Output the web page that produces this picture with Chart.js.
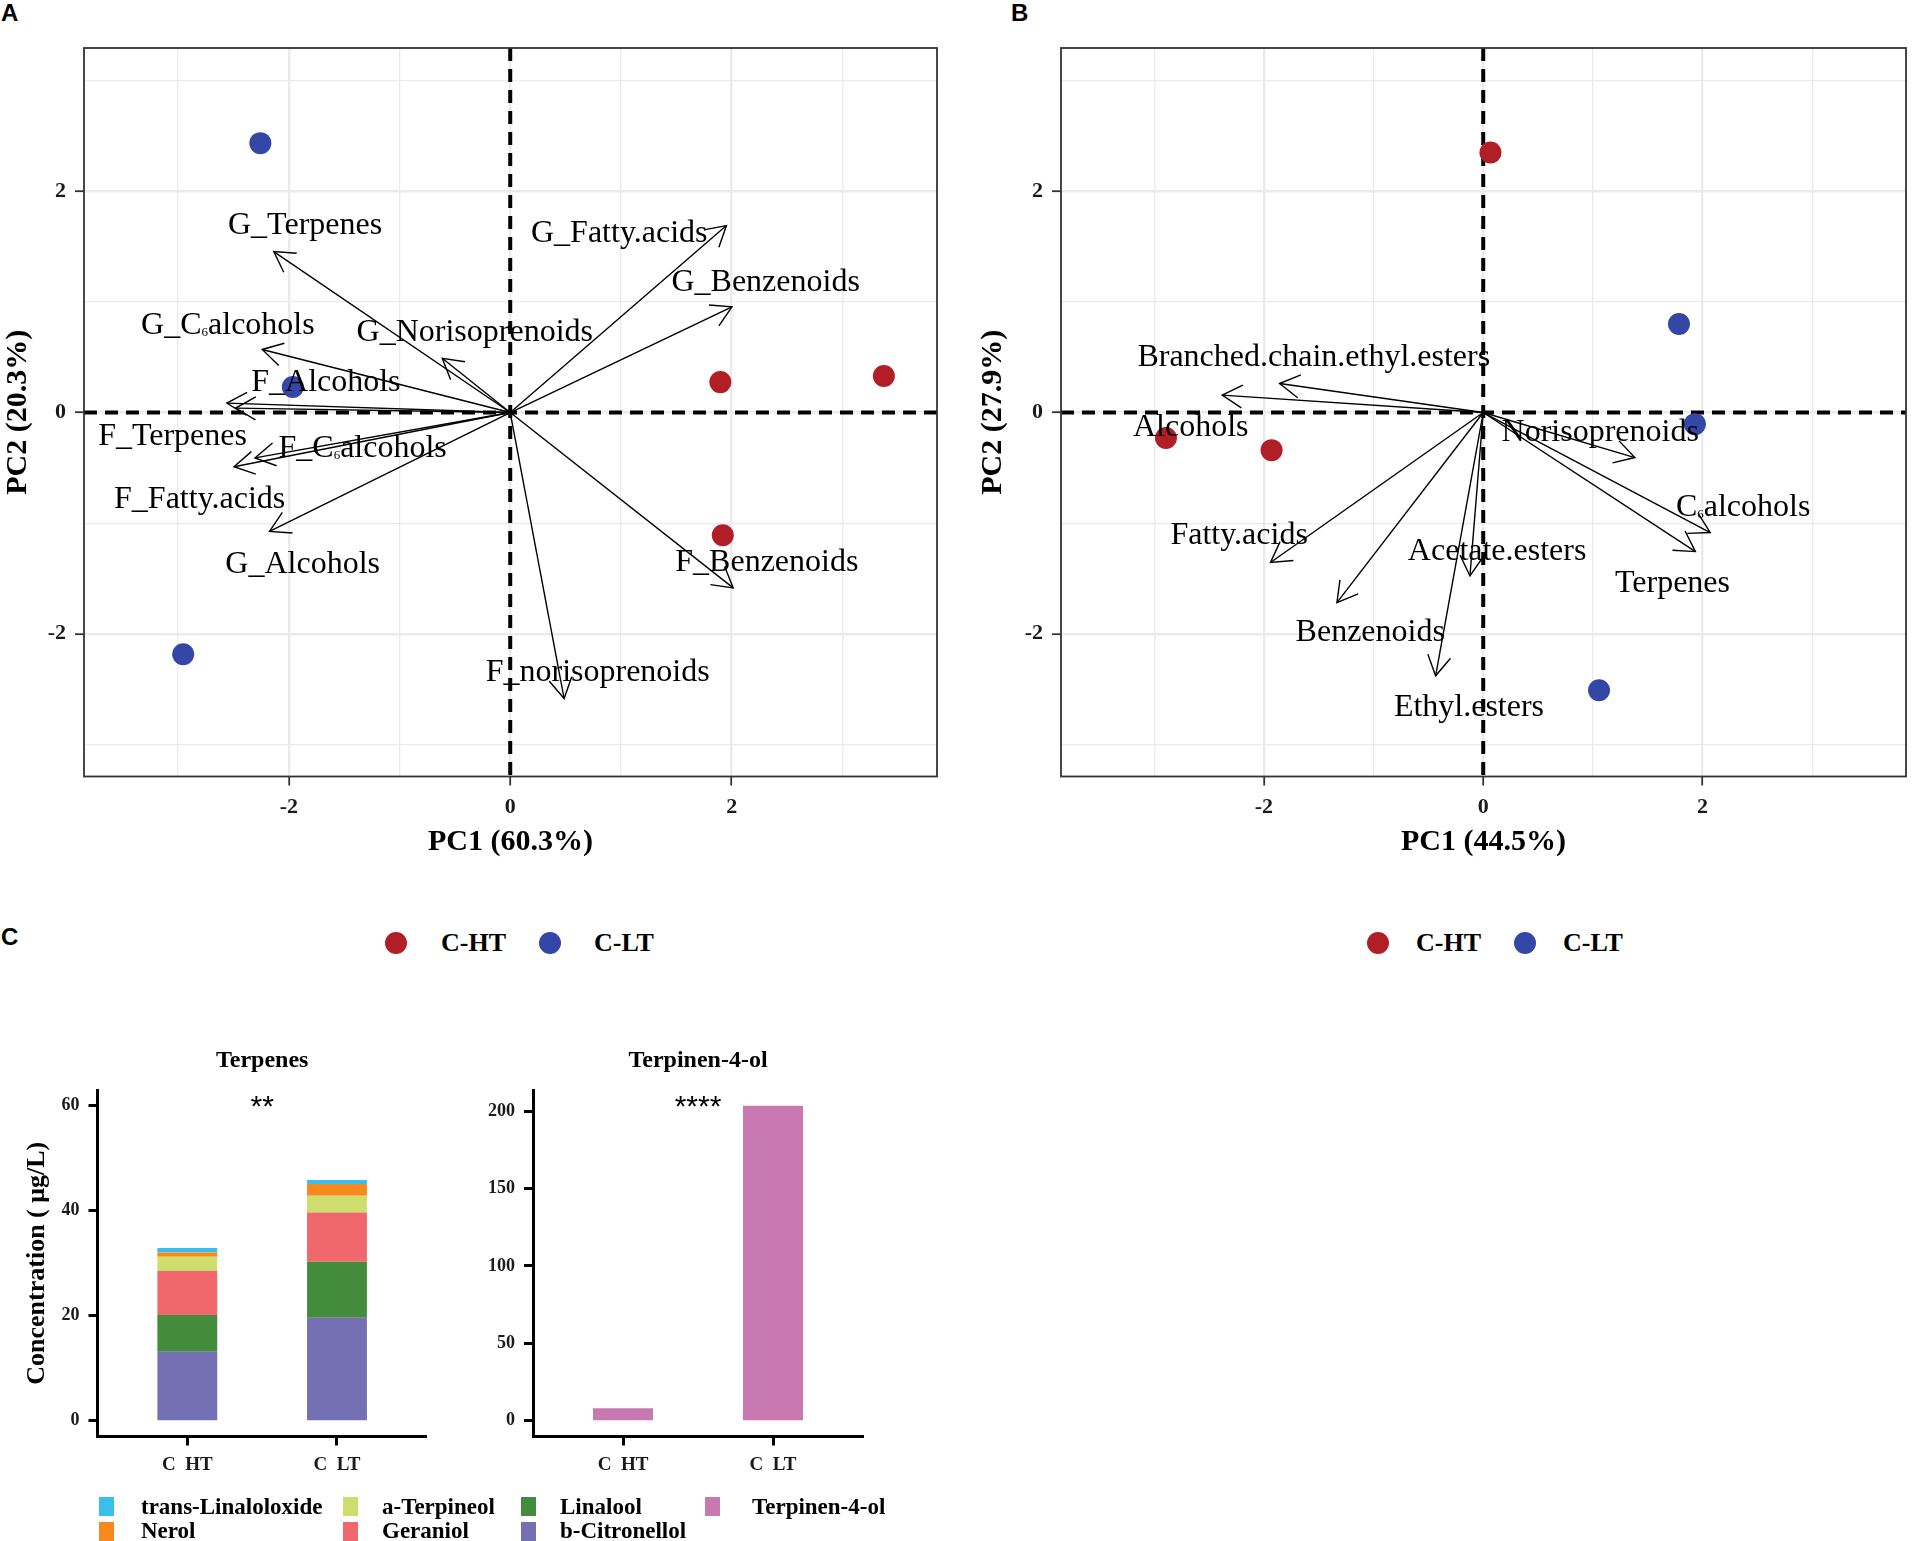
<!DOCTYPE html>
<html>
<head>
<meta charset="utf-8">
<script src="https://cdn.jsdelivr.net/npm/chart.js@4.4.1/dist/chart.umd.min.js"></script>
<style>
  html,body{margin:0;padding:0;background:#fff;}
  #wrap{position:relative;width:1917px;height:1541px;background:#fff;overflow:hidden;font-family:"Liberation Serif","Times New Roman",serif;}
  canvas{position:absolute;}
  .tag{position:absolute;font:bold 24px/24px "Liberation Sans",Arial,sans-serif;color:#000;}
  .dot{position:absolute;width:22px;height:22px;border-radius:50%;}
  .lgt{position:absolute;font:bold 26px/26px "Liberation Serif",serif;color:#000;white-space:nowrap;}
  .sq{position:absolute;width:15px;height:19px;}
  .bl{position:absolute;font:bold 23px/23px "Liberation Serif",serif;color:#000;white-space:nowrap;}
</style>
</head>
<body>
<div id="wrap">
  <div class="tag" style="left:1px;top:1px;">A</div>
  <div class="tag" style="left:1011px;top:1px;">B</div>
  <div class="tag" style="left:1px;top:925px;">C</div>

  <canvas id="pcaA" width="960" height="870" style="left:0;top:0;"></canvas>
  <canvas id="pcaB" width="957" height="870" style="left:960px;top:0;"></canvas>
  <canvas id="barT" width="450" height="480" style="left:0;top:1030px;"></canvas>
  <canvas id="barT4" width="440" height="480" style="left:440px;top:1030px;"></canvas>

  <div id="legA"></div>
  <div id="legB"></div>
  <div id="legC"></div>
</div>
<script>
// ---------------- DATA ----------------
const groups = ['C-HT', 'C-LT'];

// Panel A (individuals)
const aHT_x = [1.898, 3.375, 1.920];
const aHT_y = [0.275, 0.330, -1.110];
const aLT_x = [-2.257, -1.964, -2.954];
const aLT_y = [2.435, 0.230, -2.185];
// Panel A (variables)
const aVarNames = ['G_Terpenes','G_Fatty.acids','G_Benzenoids','G_Norisoprenoids','G_C\u2086alcohols','F_Alcohols','F_Terpenes','F_C\u2086alcohols','F_Fatty.acids','G_Alcohols','F_Benzenoids','F_norisoprenoids'];
const aVarX = [-2.136, 1.953, 2.003, -0.614, -2.240, -2.560, -2.480, -2.306, -2.495, -2.174, 2.014, 0.487];
const aVarY = [1.455, 1.690, 0.955, 0.490, 0.570, 0.085, 0.040, -0.410, -0.490, -1.075, -1.585, -2.585];
const aLabX = [-1.853, 0.985, 2.307, -0.320, -2.550, -1.665, -3.050, -1.333, -2.805, -1.875, 2.318, 0.790];
const aLabY = [1.710, 1.640, 1.190, 0.745, 0.805, 0.285, -0.200, -0.310, -0.765, -1.355, -1.335, -2.335];

// Panel B (individuals)
const bHT_x = [0.066, -2.893, -1.930];
const bHT_y = [2.350, -0.230, -0.340];
const bLT_x = [1.785, 1.930, 1.056];
const bLT_y = [0.800, -0.105, -2.510];
// Panel B (variables)
const bVarNames = ['Branched.chain.ethyl.esters','Alcohols','Norisoprenoids','C\u2086alcohols','Terpenes','Acetate.esters','Ethyl.esters','Benzenoids','Fatty.acids'];
const bVarX = [-1.857, -2.380, 1.383, 2.070, 1.935, -0.121, -0.434, -1.334, -1.940];
const bVarY = [0.262, 0.157, -0.407, -1.085, -1.257, -1.477, -2.380, -1.718, -1.356];
const bLabX = [-1.545, -2.667, 1.067, 2.370, 1.726, 0.127, -0.130, -1.030, -2.226];
const bLabY = [0.515, -0.115, -0.164, -0.840, -1.528, -1.235, -2.650, -1.973, -1.095];

const pcaTicks = [-3, -2, -1, 0, 1, 2, 3];

// Panel C
const barCats = ['C  HT', 'C  LT'];
const barPos = [1, 2];
const bCitronellol = [13.14, 19.62];
const linalool = [6.99, 10.67];
const geraniol = [8.44, 9.39];
const aTerpineol = [2.67, 3.18];
const nerol = [0.82, 2.22];
const transLinaloloxide = [0.83, 0.76];
const terpinen4ol = [8.0, 203.4];
const terpTicks = [0, 20, 40, 60];
const t4Ticks = [0, 50, 100, 150, 200];

// ---------------- STYLE ----------------
const RED = '#B11E25', BLUE = '#3447A6';
const SERIF = '"Liberation Serif", "Times New Roman", serif';
const stackNames = ['b-Citronellol','Linalool','Geraniol','a-Terpineol','Nerol','trans-Linaloloxide'];
const stackVals = [bCitronellol, linalool, geraniol, aTerpineol, nerol, transLinaloloxide];
const stackColors = ['#7570B3','#438C3E','#F0686B','#CDDE6E','#F68A1E','#3ABEEE'];
const T4COLOR = '#C879B2';

function drawRich(ctx, text, cx, by, size){
  const idx = text.indexOf('\u2086');
  const main = size + 'px ' + SERIF;
  const sub = Math.round(size * 0.42) + 'px ' + SERIF;
  ctx.textAlign = 'left'; ctx.textBaseline = 'alphabetic'; ctx.fillStyle = '#000';
  if (idx < 0){ ctx.font = main; const w = ctx.measureText(text).width; ctx.fillText(text, cx - w/2, by); return; }
  const a = text.slice(0, idx), b = text.slice(idx + 1);
  ctx.font = main; const wa = ctx.measureText(a).width, wb = ctx.measureText(b).width;
  ctx.font = sub; const ws = ctx.measureText('6').width;
  let x = cx - (wa + ws + wb) / 2;
  ctx.font = main; ctx.fillText(a, x, by); x += wa;
  ctx.font = sub; ctx.fillText('6', x, by + size * 0.06); x += ws;
  ctx.font = main; ctx.fillText(b, x, by);
}

function biplotPlugin(names, lx, ly){
  return {
    id: 'biplot',
    beforeDatasetsDraw(chart){
      const {ctx, chartArea: ca, scales: {x, y}} = chart;
      ctx.save();
      ctx.beginPath(); ctx.rect(ca.left, ca.top, ca.width, ca.height); ctx.clip();
      ctx.strokeStyle = '#000'; ctx.lineWidth = 4; ctx.setLineDash([13, 8]);
      const x0 = x.getPixelForValue(0), y0 = y.getPixelForValue(0);
      ctx.beginPath(); ctx.moveTo(ca.left, y0); ctx.lineTo(ca.right, y0); ctx.stroke();
      ctx.beginPath(); ctx.moveTo(x0, ca.top); ctx.lineTo(x0, ca.bottom); ctx.stroke();
      ctx.restore();
    },
    afterDatasetsDraw(chart){
      const {ctx, scales: {x, y}} = chart;
      ctx.save();
      ctx.strokeStyle = '#000'; ctx.lineWidth = 1.4; ctx.setLineDash([]);
      chart.data.datasets.forEach((ds, i) => {
        if (!ds.isArrow) return;
        const pts = chart.getDatasetMeta(i).data;
        const p0 = pts[0], p1 = pts[1];
        const ang = Math.atan2(p1.y - p0.y, p1.x - p0.x);
        const L = 23, a = Math.PI / 6;
        ctx.beginPath();
        ctx.moveTo(p1.x - L * Math.cos(ang - a), p1.y - L * Math.sin(ang - a));
        ctx.lineTo(p1.x, p1.y);
        ctx.lineTo(p1.x - L * Math.cos(ang + a), p1.y - L * Math.sin(ang + a));
        ctx.stroke();
      });
      names.forEach((n, i) => {
        drawRich(ctx, n, x.getPixelForValue(lx[i]), y.getPixelForValue(ly[i]) + 10.5, 32);
      });
      ctx.restore();
    },
    afterDraw(chart){
      const {ctx, chartArea: ca} = chart;
      ctx.save(); ctx.strokeStyle = '#333'; ctx.lineWidth = 1.8;
      ctx.strokeRect(ca.left, ca.top, ca.width, ca.height); ctx.restore();
    }
  };
}

function pcaAxis(title, isX, fitSize){
  const isMajor = c => c.tick && Math.abs(c.tick.value) % 2 === 0;
  const ax = {
    type: 'linear',
    min: isX ? -3.85 : -3.29,
    max: isX ? 3.855 : 3.295,
    afterBuildTicks: s => { s.ticks = pcaTicks.map(v => ({value: v})); },
    ticks: {autoSkip: false, maxRotation: 0, padding: 9, color: '#1a1a1a',
      font: {family: SERIF, size: 22, weight: 'bold'},
      callback: v => (Math.abs(v) % 2 === 0 ? String(v) : '')},
    grid: {color: '#EBEBEB', lineWidth: c => isMajor(c) ? 2.4 : 1.3,
      tickColor: c => isMajor(c) ? '#333' : 'rgba(0,0,0,0)', tickLength: 9, tickWidth: 1.8},
    border: {display: false},
    title: {display: true, text: title, color: '#000', font: {family: SERIF, size: 30, weight: 'bold'}, padding: 0},
    afterFit: s => { if (isX) s.height = fitSize; else s.width = fitSize; }
  };
  return ax;
}

function makeBiplot(id, htx, hty, ltx, lty, vx, vy, names, lx, ly, xTitle, yTitle, pad, yW){
  const datasets = [];
  vx.forEach((v, i) => {
    datasets.push({label: names[i], isArrow: true, data: [{x: 0, y: 0}, {x: vx[i], y: vy[i]}],
      showLine: true, borderColor: '#000', borderWidth: 1.4, pointRadius: 0, fill: false, order: 1});
  });
  datasets.push({label: groups[0], data: htx.map((v, i) => ({x: v, y: hty[i]})), backgroundColor: RED, pointRadius: 11, borderWidth: 0, order: 5});
  datasets.push({label: groups[1], data: ltx.map((v, i) => ({x: v, y: lty[i]})), backgroundColor: BLUE, pointRadius: 11, borderWidth: 0, order: 5});
  new Chart(document.getElementById(id), {
    type: 'scatter',
    data: {datasets},
    options: {
      responsive: false, animation: false, devicePixelRatio: 1,
      layout: {padding: pad},
      plugins: {legend: {display: false}, tooltip: {enabled: false}},
      scales: {x: pcaAxis(xTitle, true, 83.5), y: pcaAxis(yTitle, false, yW)}
    },
    plugins: [biplotPlugin(names, lx, ly)]
  });
}

makeBiplot('pcaA', aHT_x, aHT_y, aLT_x, aLT_y, aVarX, aVarY, aVarNames, aLabX, aLabY,
  'PC1 (60.3%)', 'PC2 (20.3%)', {left: 0, right: 23, top: 48, bottom: 10}, 84);
makeBiplot('pcaB', bHT_x, bHT_y, bLT_x, bLT_y, bVarX, bVarY, bVarNames, bLabX, bLabY,
  'PC1 (44.5%)', 'PC2 (27.9%)', {left: 15, right: 5, top: 48, bottom: 10}, 86);

// ---------------- BAR CHARTS ----------------
function barTitlePlugin(title, stars){
  return {
    id: 'bartitle',
    afterDraw(chart){
      const {ctx, chartArea: ca} = chart;
      const cx = (ca.left + ca.right) / 2;
      ctx.save();
      ctx.fillStyle = '#000'; ctx.textAlign = 'center'; ctx.textBaseline = 'alphabetic';
      ctx.font = 'bold 24px ' + SERIF;
      ctx.fillText(title, cx, ca.top - 23);
      ctx.font = '30px "Liberation Sans", Arial, sans-serif';
      ctx.fillText(stars, cx, ca.top + 26);
      ctx.restore();
    }
  };
}

function barAxisX(){
  return {
    type: 'linear', stacked: true, offset: false, min: 0.4, max: 2.6,
    afterBuildTicks: s => { s.ticks = barPos.map(v => ({value: v})); },
    ticks: {autoSkip: false, maxRotation: 0, padding: 8, color: '#1a1a1a',
      font: {family: SERIF, size: 19, weight: 'bold'},
      callback: v => barCats[barPos.indexOf(v)] || ''},
    grid: {display: true, offset: false, drawOnChartArea: false, drawTicks: true, tickLength: 9, tickWidth: 3, tickColor: '#000', color: '#000'},
    border: {display: true, color: '#000', width: 3},
    afterFit: s => { s.height = 50; }
  };
}
function barAxisY(min, max, ticks, width, title){
  const ax = {
    type: 'linear', stacked: true, min, max,
    afterBuildTicks: s => { s.ticks = ticks.map(v => ({value: v})); },
    ticks: {autoSkip: false, padding: 9, color: '#1a1a1a', font: {family: SERIF, size: 18, weight: 'bold'}},
    grid: {display: true, drawOnChartArea: false, drawTicks: true, tickLength: 9, tickWidth: 3, tickColor: '#000', color: '#000'},
    border: {display: true, color: '#000', width: 3},
    afterFit: s => { s.width = width; }
  };
  if (title) ax.title = {display: true, text: title, color: '#000', font: {family: SERIF, size: 26, weight: 'bold'}, padding: 0};
  return ax;
}

new Chart(document.getElementById('barT'), {
  type: 'bar',
  data: {
    datasets: stackNames.map((n, k) => ({
      label: n, data: barPos.map((p, i) => ({x: p, y: stackVals[k][i]})),
      backgroundColor: stackColors[k], borderWidth: 0, barPercentage: 0.4, categoryPercentage: 1
    }))
  },
  options: {
    responsive: false, animation: false, devicePixelRatio: 1,
    layout: {padding: {left: 22, right: 23.2, top: 60, bottom: 23.5}},
    plugins: {legend: {display: false}, tooltip: {enabled: false}},
    scales: {x: barAxisX(), y: barAxisY(-3, 63, terpTicks, 75.5, 'Concentration ( \u03bcg/L)')}
  },
  plugins: [barTitlePlugin('Terpenes', '**')]
});

new Chart(document.getElementById('barT4'), {
  type: 'bar',
  data: {
    datasets: [{label: 'Terpinen-4-ol', data: barPos.map((p, i) => ({x: p, y: terpinen4ol[i]})),
      backgroundColor: T4COLOR, borderWidth: 0, barPercentage: 0.4, categoryPercentage: 1}]
  },
  options: {
    responsive: false, animation: false, devicePixelRatio: 1,
    layout: {padding: {left: 0, right: 17, top: 60, bottom: 23.5}},
    plugins: {legend: {display: false}, tooltip: {enabled: false}},
    scales: {x: barAxisX(), y: barAxisY(-10.17, 213.57, t4Ticks, 93)}
  },
  plugins: [barTitlePlugin('Terpinen-4-ol', '****')]
});

// ---------------- HTML LEGENDS ----------------
function groupLegend(elId, dots, texts){
  const el = document.getElementById(elId);
  let h = '';
  groups.forEach((g, i) => {
    h += `<div class="dot" style="left:${dots[i]-11}px;top:932px;background:${i===0?RED:BLUE};"></div>`;
    h += `<div class="lgt" style="left:${texts[i]}px;top:930px;">${g}</div>`;
  });
  el.innerHTML = h;
}
groupLegend('legA', [396, 550], [441, 594]);
groupLegend('legB', [1378, 1525], [1416, 1563]);

(function(){
  const el = document.getElementById('legC');
  const items = [
    ['trans-Linaloloxide', '#3ABEEE', 0, 0], ['Nerol', '#F68A1E', 0, 1],
    ['a-Terpineol', '#CDDE6E', 1, 0], ['Geraniol', '#F0686B', 1, 1],
    ['Linalool', '#438C3E', 2, 0], ['b-Citronellol', '#7570B3', 2, 1],
    ['Terpinen-4-ol', T4COLOR, 3, 0]
  ];
  const sqX = [99, 343, 521, 705], txX = [141, 382, 560, 752];
  const sqY = [1497, 1522], txY = [1495, 1519];
  let h = '';
  items.forEach(([n, c, col, row]) => {
    h += `<div class="sq" style="left:${sqX[col]}px;top:${sqY[row]}px;background:${c};"></div>`;
    h += `<div class="bl" style="left:${txX[col]}px;top:${txY[row]}px;">${n}</div>`;
  });
  el.innerHTML = h;
})();
</script>
</body>
</html>
